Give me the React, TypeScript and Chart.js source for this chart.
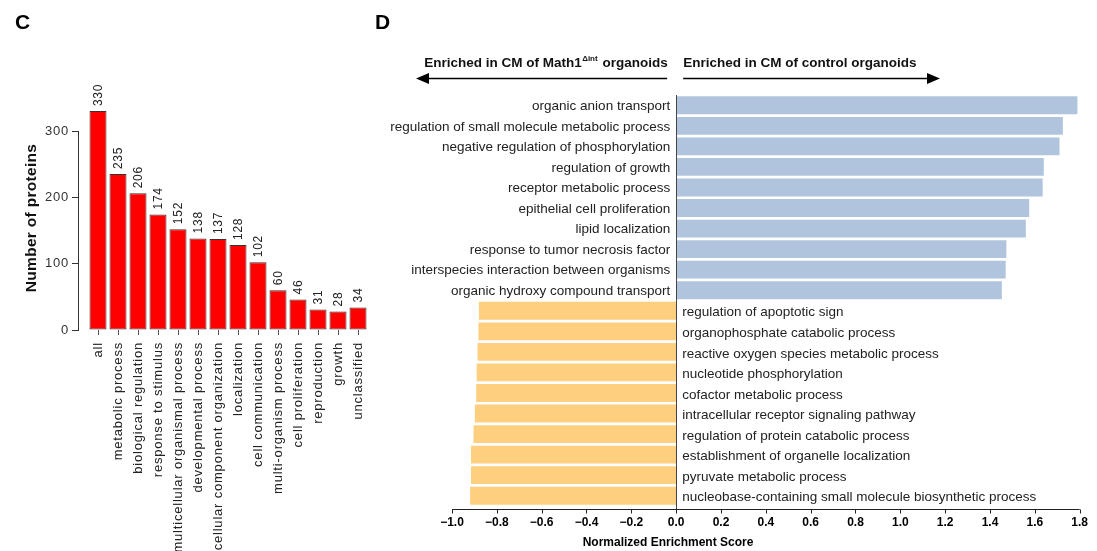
import React, { useEffect, useRef } from 'react';
import { Chart, registerables } from 'chart.js';
Chart.register(...registerables);

const W = 1097;
const H = 551;
const FONT = "'Liberation Sans', Arial, Helvetica, sans-serif";

// Panel C data
const goCategories = [
  'all', 'metabolic process', 'biological regulation', 'response to stimulus',
  'multicellular organismal process', 'developmental process',
  'cellular component organization', 'localization', 'cell communication',
  'multi-organism process', 'cell proliferation', 'reproduction', 'growth', 'unclassified',
];
const goCounts = [330, 235, 206, 174, 152, 138, 137, 128, 102, 60, 46, 31, 28, 34];
const goYTicks = [0, 100, 200, 300];

// Panel D data
const gseaTerms = [
  'organic anion transport',
  'regulation of small molecule metabolic process',
  'negative regulation of phosphorylation',
  'regulation of growth',
  'receptor metabolic process',
  'epithelial cell proliferation',
  'lipid localization',
  'response to tumor necrosis factor',
  'interspecies interaction between organisms',
  'organic hydroxy compound transport',
  'regulation of apoptotic sign',
  'organophosphate catabolic process',
  'reactive oxygen species metabolic process',
  'nucleotide phosphorylation',
  'cofactor metabolic process',
  'intracellular receptor signaling pathway',
  'regulation of protein catabolic process',
  'establishment of organelle localization',
  'pyruvate metabolic process',
  'nucleobase-containing small molecule biosynthetic process',
];
const gseaScores = [
  1.79, 1.725, 1.71, 1.64, 1.635, 1.575, 1.56, 1.473, 1.47, 1.453,
  -0.88, -0.882, -0.886, -0.89, -0.892, -0.898, -0.904, -0.915, -0.915, -0.919,
];
const nesTicks = [-1.0, -0.8, -0.6, -0.4, -0.2, 0.0, 0.2, 0.4, 0.6, 0.8, 1.0, 1.2, 1.4, 1.6, 1.8];

const POS_COLOR = '#B0C4DE';
const NEG_COLOR = '#FDCF7E';

function fmtTick(v: number) {
  return Number(v).toFixed(1).replace('-', '\u2212');
}

export default function App() {
  const refC = useRef<HTMLCanvasElement>(null);
  const refD = useRef<HTMLCanvasElement>(null);

  useEffect(() => {
    Chart.defaults.font.family = FONT;

    const pluginC = {
      id: 'panelC',
      beforeDraw(chart: any) {
        chart.ctx.letterSpacing = '0.8px';
      },
      afterDraw(chart: any) {
        const ctx = chart.ctx;
        const meta = chart.getDatasetMeta(0);
        ctx.save();
        ctx.letterSpacing = '0.8px';
        ctx.fillStyle = '#222';
        ctx.font = `12px ${FONT}`;
        ctx.textAlign = 'left';
        ctx.textBaseline = 'middle';
        meta.data.forEach((el: any, i: number) => {
          ctx.save();
          ctx.translate(el.x + 1, el.y - 5);
          ctx.rotate(-Math.PI / 2);
          ctx.fillText(String(goCounts[i]), 0, 0);
          ctx.restore();
        });
        // y title
        ctx.save();
        ctx.translate(32, 218);
        ctx.rotate(-Math.PI / 2);
        ctx.font = `bold 15.5px ${FONT}`;
        ctx.letterSpacing = '0.3px';
        ctx.fillStyle = '#111';
        ctx.textAlign = 'center';
        ctx.fillText('Number of proteins', 0, 0);
        ctx.restore();
        // panel letter
        ctx.letterSpacing = '0px';
        ctx.font = `bold 21px ${FONT}`;
        ctx.fillStyle = '#000';
        ctx.textAlign = 'left';
        ctx.textBaseline = 'alphabetic';
        ctx.fillText('C', 15, 29);
        ctx.restore();
      },
    };

    const chartC = new Chart(refC.current!, {
      type: 'bar',
      data: {
        datasets: [
          {
            data: goCategories.map((_, i) => ({ x: i, y: goCounts[i] })),
            backgroundColor: '#ff0000',
            borderColor: '#333',
            borderWidth: 1,
            borderSkipped: false,
            barPercentage: 0.85,
            categoryPercentage: 1,
            clip: false,
          } as any,
        ],
      },
      options: {
        animation: false,
        responsive: false,
        layout: { padding: { left: 36, right: W - 368, top: 131, bottom: 0 } },
        plugins: { legend: { display: false }, tooltip: { enabled: false } },
        scales: {
          x: {
            type: 'linear',
            offset: false,
            min: -1,
            max: 13.5,
            afterBuildTicks: (scale: any) => {
              scale.ticks = goCategories.map((_, i) => ({ value: i }));
            },
            afterFit: (scale: any) => {
              scale.height = H - 330;
            },
            border: { display: false },
            grid: { offset: false, drawOnChartArea: false, drawTicks: true, tickLength: 5, color: '#555' },
            ticks: {
              autoSkip: false,
              minRotation: 90,
              maxRotation: 90,
              padding: 7,
              color: '#222',
              font: { size: 13 },
              callback: (v: any) => goCategories[Number(v)] ?? '',
            },
          },
          y: {
            min: 0,
            max: 300,
            afterBuildTicks: (scale: any) => {
              scale.ticks = goYTicks.map((v) => ({ value: v }));
            },
            afterFit: (scale: any) => {
              scale.width = 42;
            },
            border: { display: true, color: '#333', width: 1 },
            grid: { drawOnChartArea: false, drawTicks: true, tickLength: 6, color: '#333' },
            ticks: { color: '#333', font: { size: 13 }, padding: 3 },
          },
        },
      } as any,
      plugins: [pluginC],
    });

    const pluginD = {
      id: 'panelD',
      afterDraw(chart: any) {
        const ctx = chart.ctx;
        const xs = chart.scales.x;
        const ys = chart.scales.y;
        const area = chart.chartArea;
        const x0 = xs.getPixelForValue(0);
        const axisY = area.bottom + 3.5;
        ctx.save();
        // zero line
        ctx.strokeStyle = '#444';
        ctx.lineWidth = 1;
        ctx.beginPath();
        ctx.moveTo(Math.round(x0) + 0.5, area.top);
        ctx.lineTo(Math.round(x0) + 0.5, axisY);
        ctx.stroke();
        // x axis line + ticks
        ctx.strokeStyle = '#222';
        ctx.beginPath();
        ctx.moveTo(xs.getPixelForValue(nesTicks[0]), axisY);
        ctx.lineTo(xs.getPixelForValue(nesTicks[nesTicks.length - 1]), axisY);
        nesTicks.forEach((t) => {
          const px = Math.round(xs.getPixelForValue(t)) + 0.5;
          ctx.moveTo(px, axisY);
          ctx.lineTo(px, axisY + 4);
        });
        ctx.stroke();
        // category labels
        ctx.fillStyle = '#222';
        ctx.font = `13.5px ${FONT}`;
        ctx.textBaseline = 'middle';
        gseaTerms.forEach((t, i) => {
          const y = ys.getPixelForValue(i) + 1;
          if (gseaScores[i] >= 0) {
            ctx.textAlign = 'right';
            ctx.fillText(t, x0 - 6, y);
          } else {
            ctx.textAlign = 'left';
            ctx.fillText(t, x0 + 6, y + 1);
          }
        });
        // headers
        ctx.fillStyle = '#111';
        ctx.textBaseline = 'alphabetic';
        const hb = `bold 13.5px ${FONT}`;
        const sup = `bold 8px ${FONT}`;
        const p1 = 'Enriched in CM of Math1';
        const p2 = '\u0394int';
        const p3 = ' organoids';
        ctx.font = hb;
        const w1 = ctx.measureText(p1).width;
        const w3 = ctx.measureText(p3).width;
        ctx.font = sup;
        const w2 = ctx.measureText(p2).width + 1;
        let sx = x0 - 9 - (w1 + w2 + w3);
        ctx.textAlign = 'left';
        ctx.font = hb;
        ctx.fillText(p1, sx, 67);
        sx += w1 + 0.5;
        ctx.font = sup;
        ctx.fillText(p2, sx, 61);
        sx += w2;
        ctx.font = hb;
        ctx.fillText(p3, sx, 67);
        ctx.fillText('Enriched in CM of control organoids', x0 + 7, 67);
        // arrows
        const ay = 78.5;
        ctx.strokeStyle = '#000';
        ctx.fillStyle = '#000';
        ctx.lineWidth = 1.4;
        ctx.beginPath();
        ctx.moveTo(x0 - 9, ay);
        ctx.lineTo(428, ay);
        ctx.moveTo(x0 + 7, ay);
        ctx.lineTo(928, ay);
        ctx.stroke();
        ctx.beginPath();
        ctx.moveTo(416, ay);
        ctx.lineTo(429, ay - 5.5);
        ctx.lineTo(429, ay + 5.5);
        ctx.closePath();
        ctx.fill();
        ctx.beginPath();
        ctx.moveTo(940, ay);
        ctx.lineTo(927, ay - 5.5);
        ctx.lineTo(927, ay + 5.5);
        ctx.closePath();
        ctx.fill();
        // x title
        ctx.font = `bold 12px ${FONT}`;
        ctx.textAlign = 'center';
        ctx.textBaseline = 'middle';
        ctx.fillText('Normalized Enrichment Score', 668, 543);
        // panel letter
        ctx.font = `bold 21px ${FONT}`;
        ctx.fillStyle = '#000';
        ctx.textAlign = 'left';
        ctx.textBaseline = 'alphabetic';
        ctx.fillText('D', 375, 29);
        ctx.restore();
      },
    };

    const chartD = new Chart(refD.current!, {
      type: 'bar',
      data: {
        labels: gseaTerms,
        datasets: [
          {
            data: gseaScores,
            backgroundColor: gseaScores.map((v) => (v >= 0 ? POS_COLOR : NEG_COLOR)),
            borderWidth: 0,
            barPercentage: 0.87,
            categoryPercentage: 1,
          },
        ],
      },
      options: {
        animation: false,
        responsive: false,
        indexAxis: 'y',
        layout: { padding: { left: 452, right: W - 1085, top: 95, bottom: 0 } },
        plugins: { legend: { display: false }, tooltip: { enabled: false } },
        scales: {
          x: {
            type: 'linear',
            min: -1.0,
            max: 1.8,
            afterBuildTicks: (scale: any) => {
              scale.ticks = nesTicks.map((v) => ({ value: v }));
            },
            afterFit: (scale: any) => {
              scale.height = H - 506;
            },
            border: { display: false },
            grid: { display: false, drawTicks: false },
            ticks: {
              padding: 9,
              color: '#000',
              font: { size: 12, weight: 'bold' },
              maxRotation: 0,
              autoSkip: false,
              callback: (v: any) => fmtTick(v),
            },
          },
          y: { display: false },
        },
      } as any,
      plugins: [pluginD],
    });

    return () => {
      chartC.destroy();
      chartD.destroy();
    };
  }, []);

  const style: React.CSSProperties = {
    position: 'absolute',
    left: 0,
    top: 0,
    width: W,
    height: H,
  };

  return (
    <div style={{ position: 'absolute', left: 0, top: 0, width: W, height: H, background: '#fff', overflow: 'hidden' }}>
      <canvas ref={refC} width={W} height={H} style={style} />
      <canvas ref={refD} width={W} height={H} style={style} />
    </div>
  );
}
